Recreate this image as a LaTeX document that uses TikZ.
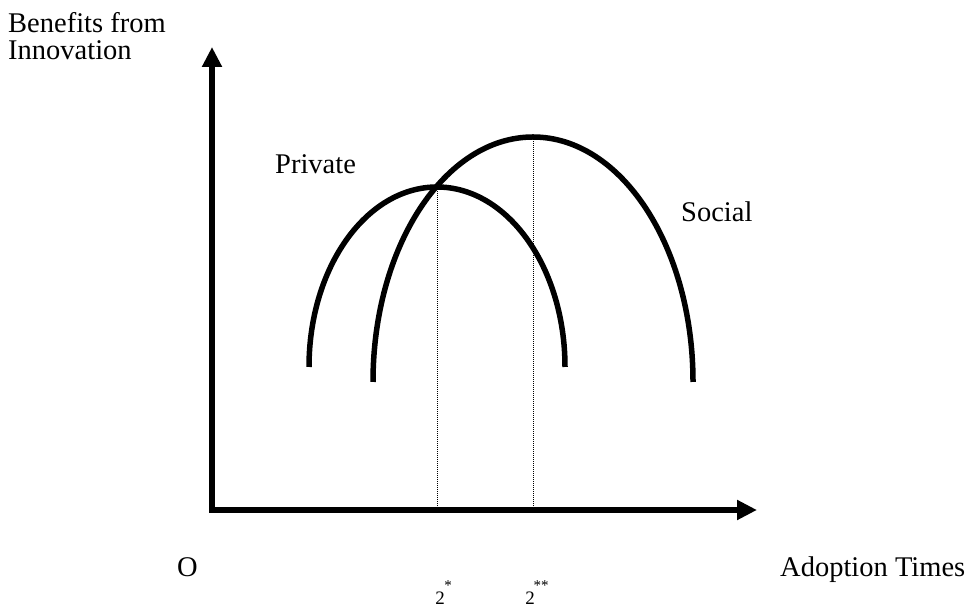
\documentclass[tikz,border=0pt]{standalone}
\usepackage{fontspec}
\setmainfont{Liberation Serif}
\usetikzlibrary{arrows.meta}
\begin{document}
\begin{tikzpicture}[x=1pt,y=1pt,
  axis/.style={line width=5.5pt,-{Triangle[length=20pt,width=19pt]}},
  curve/.style={line width=5.5pt},
  guide/.style={line width=0.8pt,dash pattern=on 1pt off 1pt},
  lbl/.style={anchor=base west,inner sep=0pt,font=\fontsize{28.5}{34}\selectfont},
  small/.style={anchor=base,inner sep=0pt,font=\fontsize{19}{22}\selectfont},
  star/.style={anchor=base,inner sep=0pt,font=\fontsize{15}{18}\selectfont}]
\useasboundingbox (0,0) rectangle (971,612);
\coordinate (origin) at (212,102);
\coordinate (ybot) at (212,99.25);
\coordinate (ytop) at (212,565);
\coordinate (xleft) at (209.25,102);
\coordinate (xright) at (757,102);
\draw[axis] (ybot) -- (ytop);
\draw[axis] (xleft) -- (xright);
% dotted guides
\coordinate (ptop) at (437,425);
\coordinate (pbot) at (437,102);
\coordinate (stop) at (533,475);
\coordinate (sbot) at (533,102);
\draw[guide] (ptop) -- (pbot);
\draw[guide] (stop) -- (sbot);
% curves
\coordinate (pstart) at (309,245);
\coordinate (sstart) at (373,230);
\draw[curve] (pstart) arc[start angle=180,end angle=0,x radius=128,y radius=180];
\draw[curve] (sstart) arc[start angle=180,end angle=0,x radius=160,y radius=245];
% labels
\node[lbl] (benefits) at (8,579) {Benefits from};
\node[lbl] (innov) at (8,552) {Innovation};
\node[lbl] (private) at (275,438) {Private};
\node[lbl] (social) at (681,390) {Social};
\node[lbl] (o) at (177,35) {O};
\node[lbl] (adopt) at (780,35) {Adoption Times};
\node[star] (s1) at (448,21) {*};
\node[small] (t1) at (440,7) {2};
\node[star] (s2) at (541,21) {**};
\node[small] (t2) at (530,7) {2};
\end{tikzpicture}
\end{document}
